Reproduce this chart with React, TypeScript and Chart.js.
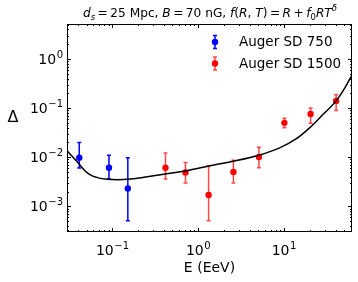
import { useEffect, useRef } from 'react';
import { Chart, registerables } from 'chart.js';
Chart.register(...registerables);

// ---- data ----
const sd750E = [0.041, 0.091, 0.151];
const sd750D = [0.0098, 0.0061, 0.0023];
const sd750Hi = [0.020, 0.011, 0.0097];
const sd750Lo = [0.0060, 0.0036, 0.00051];

const sd1500E = [0.415, 0.71, 1.32, 2.57, 5.1, 10.1, 20.4, 40.5];
const sd1500D = [0.0061, 0.0049, 0.0017, 0.0050, 0.0101, 0.050, 0.076, 0.140];
const sd1500Hi = [0.0122, 0.0078, 0.0066, 0.0087, 0.0159, 0.062, 0.100, 0.186];
const sd1500Lo = [0.0036, 0.0030, 0.00051, 0.0030, 0.0061, 0.040, 0.049, 0.089];

const fitE = [0.0295, 0.039, 0.0467, 0.0558, 0.0666, 0.087, 0.114, 0.163, 0.254, 0.397, 0.648, 1.32, 2.57, 5.1, 8.9, 13.8, 20, 28.2, 40.5, 50, 62];
const fitD = [0.0135, 0.0080, 0.0055, 0.0043, 0.00384, 0.00356, 0.00349, 0.0036, 0.0040, 0.0045, 0.0051, 0.0066, 0.0083, 0.011, 0.0155, 0.0235, 0.040, 0.073, 0.14, 0.24, 0.47];

const xDecades = [-1, 0, 1];
const yDecades = [-3, -2, -1, 0];
const seriesNames = ['Auger SD 750', 'Auger SD 1500'];

const X_MIN = 0.0295, X_MAX = 62;
const Y_MIN = 3.06e-4, Y_MAX = 5.15;

const FONT = '"DejaVu Sans", sans-serif';
const BLUE = '#0000ff';
const RED = '#ff0000';
const RED_BAR = 'rgba(255,0,0,0.72)';

const supDigits = (d: number) => (d < 0 ? '\u2212' + Math.abs(d) : String(d));

function powLabel(ctx: CanvasRenderingContext2D, exp: string, x: number, baseline: number, align: 'center' | 'right') {
  ctx.font = `14px ${FONT}`;
  const wb = ctx.measureText('10').width;
  ctx.font = `10px ${FONT}`;
  const we = ctx.measureText(exp).width;
  const total = wb + we + 0.5;
  const x0 = align === 'center' ? x - total / 2 : x - total;
  ctx.textAlign = 'left';
  ctx.textBaseline = 'alphabetic';
  ctx.fillStyle = '#000';
  ctx.font = `14px ${FONT}`;
  ctx.fillText('10', x0, baseline);
  ctx.font = `10px ${FONT}`;
  ctx.fillText(exp, x0 + wb + 0.5, baseline - 6);
}

type Seg = { t: string; it?: boolean; sub?: boolean; sup?: boolean };
const TS = '\u2009';
const titleSegs: Seg[] = [
  { t: 'd', it: true }, { t: 's', it: true, sub: true }, { t: `${TS}=${TS}25 Mpc, ` },
  { t: 'B', it: true }, { t: `${TS}=${TS}70 nG, ` },
  { t: 'f', it: true }, { t: '(' }, { t: 'R', it: true }, { t: ', ' }, { t: 'T', it: true }, { t: `)${TS}=${TS}` },
  { t: 'R', it: true }, { t: `${TS}+${TS}` }, { t: 'f', it: true }, { t: '0', sub: true },
  { t: 'RT', it: true }, { t: '\u03b4', it: true, sup: true },
];

function segFont(s: Seg, size: number) {
  const sz = s.sub || s.sup ? size * 0.7 : size;
  return `${s.it ? 'italic ' : ''}${sz}px ${FONT}`;
}

const errorBarPlugin = {
  id: 'errbars',
  beforeDatasetsDraw(chart: any) {
    const ctx: CanvasRenderingContext2D = chart.ctx;
    const xs = chart.scales.x, ys = chart.scales.y;
    const draw = (E: number[], lo: number[], hi: number[], color: string) => {
      ctx.save();
      ctx.strokeStyle = color;
      ctx.lineWidth = 1.5;
      E.forEach((e, i) => {
        const px = xs.getPixelForValue(e);
        const p1 = ys.getPixelForValue(lo[i]);
        const p2 = ys.getPixelForValue(hi[i]);
        ctx.beginPath();
        ctx.moveTo(px, p1); ctx.lineTo(px, p2);
        ctx.moveTo(px - 2, p1); ctx.lineTo(px + 2, p1);
        ctx.moveTo(px - 2, p2); ctx.lineTo(px + 2, p2);
        ctx.stroke();
      });
      ctx.restore();
    };
    draw(sd750E, sd750Lo, sd750Hi, BLUE);
    draw(sd1500E, sd1500Lo, sd1500Hi, RED_BAR);
  },
};

const decorPlugin = {
  id: 'decor',
  afterDraw(chart: any) {
    const ctx: CanvasRenderingContext2D = chart.ctx;
    const { left, right, top, bottom } = chart.chartArea;
    const xs = chart.scales.x, ys = chart.scales.y;
    ctx.save();
    // frame
    ctx.strokeStyle = '#000';
    ctx.lineWidth = 1;
    ctx.strokeRect(Math.round(left) + 0.5, Math.round(top) + 0.5, Math.round(right - left) - 1, Math.round(bottom - top) - 1);
    // ticks
    ctx.beginPath();
    for (let d = -2; d <= 2; d++) {
      for (let m = 1; m <= 9; m++) {
        const v = m * Math.pow(10, d);
        if (v < X_MIN || v > X_MAX) continue;
        const px = Math.round(xs.getPixelForValue(v)) + 0.5;
        const L = m === 1 ? 4 : 2;
        ctx.moveTo(px, bottom); ctx.lineTo(px, bottom - L);
        ctx.moveTo(px, top); ctx.lineTo(px, top + L);
      }
    }
    for (let d = -4; d <= 1; d++) {
      for (let m = 1; m <= 9; m++) {
        const v = m * Math.pow(10, d);
        if (v < Y_MIN || v > Y_MAX) continue;
        const py = Math.round(ys.getPixelForValue(v)) + 0.5;
        const L = m === 1 ? 4 : 2;
        ctx.moveTo(left, py); ctx.lineTo(left + L, py);
        ctx.moveTo(right, py); ctx.lineTo(right - L, py);
      }
    }
    ctx.stroke();
    // tick labels
    xDecades.forEach((d) => powLabel(ctx, supDigits(d), xs.getPixelForValue(Math.pow(10, d)), 255, 'center'));
    yDecades.forEach((d) => powLabel(ctx, supDigits(d), left - 4, ys.getPixelForValue(Math.pow(10, d)) + 5, 'right'));
    // axis labels
    ctx.fillStyle = '#000';
    ctx.textAlign = 'center';
    ctx.textBaseline = 'middle';
    ctx.font = `16px ${FONT}`;
    ctx.fillText('\u0394', 13, 118);
    ctx.font = `14px ${FONT}`;
    ctx.fillText('E (EeV)', (left + right) / 2, 268);
    // title
    const size = 12.2;
    let w = 0;
    titleSegs.forEach((s) => { ctx.font = segFont(s, size); w += ctx.measureText(s.t).width; });
    let x = 210 - w / 2;
    const base = 17;
    ctx.textAlign = 'left';
    ctx.textBaseline = 'alphabetic';
    titleSegs.forEach((s) => {
      ctx.font = segFont(s, size);
      const dy = s.sub ? 3 : s.sup ? -6 : 0;
      ctx.fillText(s.t, x, base + dy);
      x += ctx.measureText(s.t).width;
    });
    // legend
    const rows = [
      { name: seriesNames[0], c: BLUE, bar: BLUE, y: 42 },
      { name: seriesNames[1], c: RED, bar: RED_BAR, y: 63.5 },
    ];
    rows.forEach((r) => {
      const mx = 215;
      ctx.strokeStyle = r.bar;
      ctx.lineWidth = 1.5;
      ctx.beginPath();
      ctx.moveTo(mx, r.y - 6.5); ctx.lineTo(mx, r.y + 6.5);
      ctx.moveTo(mx - 2, r.y - 6.5); ctx.lineTo(mx + 2, r.y - 6.5);
      ctx.moveTo(mx - 2, r.y + 6.5); ctx.lineTo(mx + 2, r.y + 6.5);
      ctx.stroke();
      ctx.fillStyle = r.c;
      ctx.beginPath();
      ctx.arc(mx, r.y, 3.2, 0, Math.PI * 2);
      ctx.fill();
      ctx.fillStyle = '#000';
      ctx.font = `13.5px ${FONT}`;
      ctx.textBaseline = 'middle';
      ctx.fillText(r.name, 239, r.y + 0.5);
    });
    ctx.restore();
  },
};

export default function App() {
  const ref = useRef<HTMLCanvasElement | null>(null);
  useEffect(() => {
    document.body.style.margin = '0';
    if (!ref.current) return;
    const chart = new Chart(ref.current, {
      type: 'scatter',
      data: {
        datasets: [
          {
            label: 'fit',
            data: fitE.map((e, i) => ({ x: e, y: fitD[i] })),
            showLine: true,
            borderColor: '#000',
            borderWidth: 1.5,
            pointRadius: 0,
            cubicInterpolationMode: 'monotone',
            order: 0,
          } as any,
          {
            label: seriesNames[0],
            data: sd750E.map((e, i) => ({ x: e, y: sd750D[i] })),
            backgroundColor: BLUE,
            borderWidth: 0,
            pointRadius: 3.2,
            order: 1,
          },
          {
            label: seriesNames[1],
            data: sd1500E.map((e, i) => ({ x: e, y: sd1500D[i] })),
            backgroundColor: RED,
            borderWidth: 0,
            pointRadius: 3.2,
            order: 2,
          },
        ],
      },
      options: {
        animation: false,
        responsive: false,
        devicePixelRatio: 1,
        layout: { padding: { left: 67, top: 24, right: 6, bottom: 50 } },
        plugins: { legend: { display: false }, tooltip: { enabled: false }, title: { display: false } },
        scales: {
          x: { type: 'logarithmic', min: X_MIN, max: X_MAX, display: false },
          y: { type: 'logarithmic', min: Y_MIN, max: Y_MAX, display: false },
        },
      },
      plugins: [errorBarPlugin, decorPlugin],
    });
    return () => chart.destroy();
  }, []);
  return (
    <div style={{ width: 358, height: 282 }}>
      <canvas ref={ref} width={358} height={282} />
    </div>
  );
}
